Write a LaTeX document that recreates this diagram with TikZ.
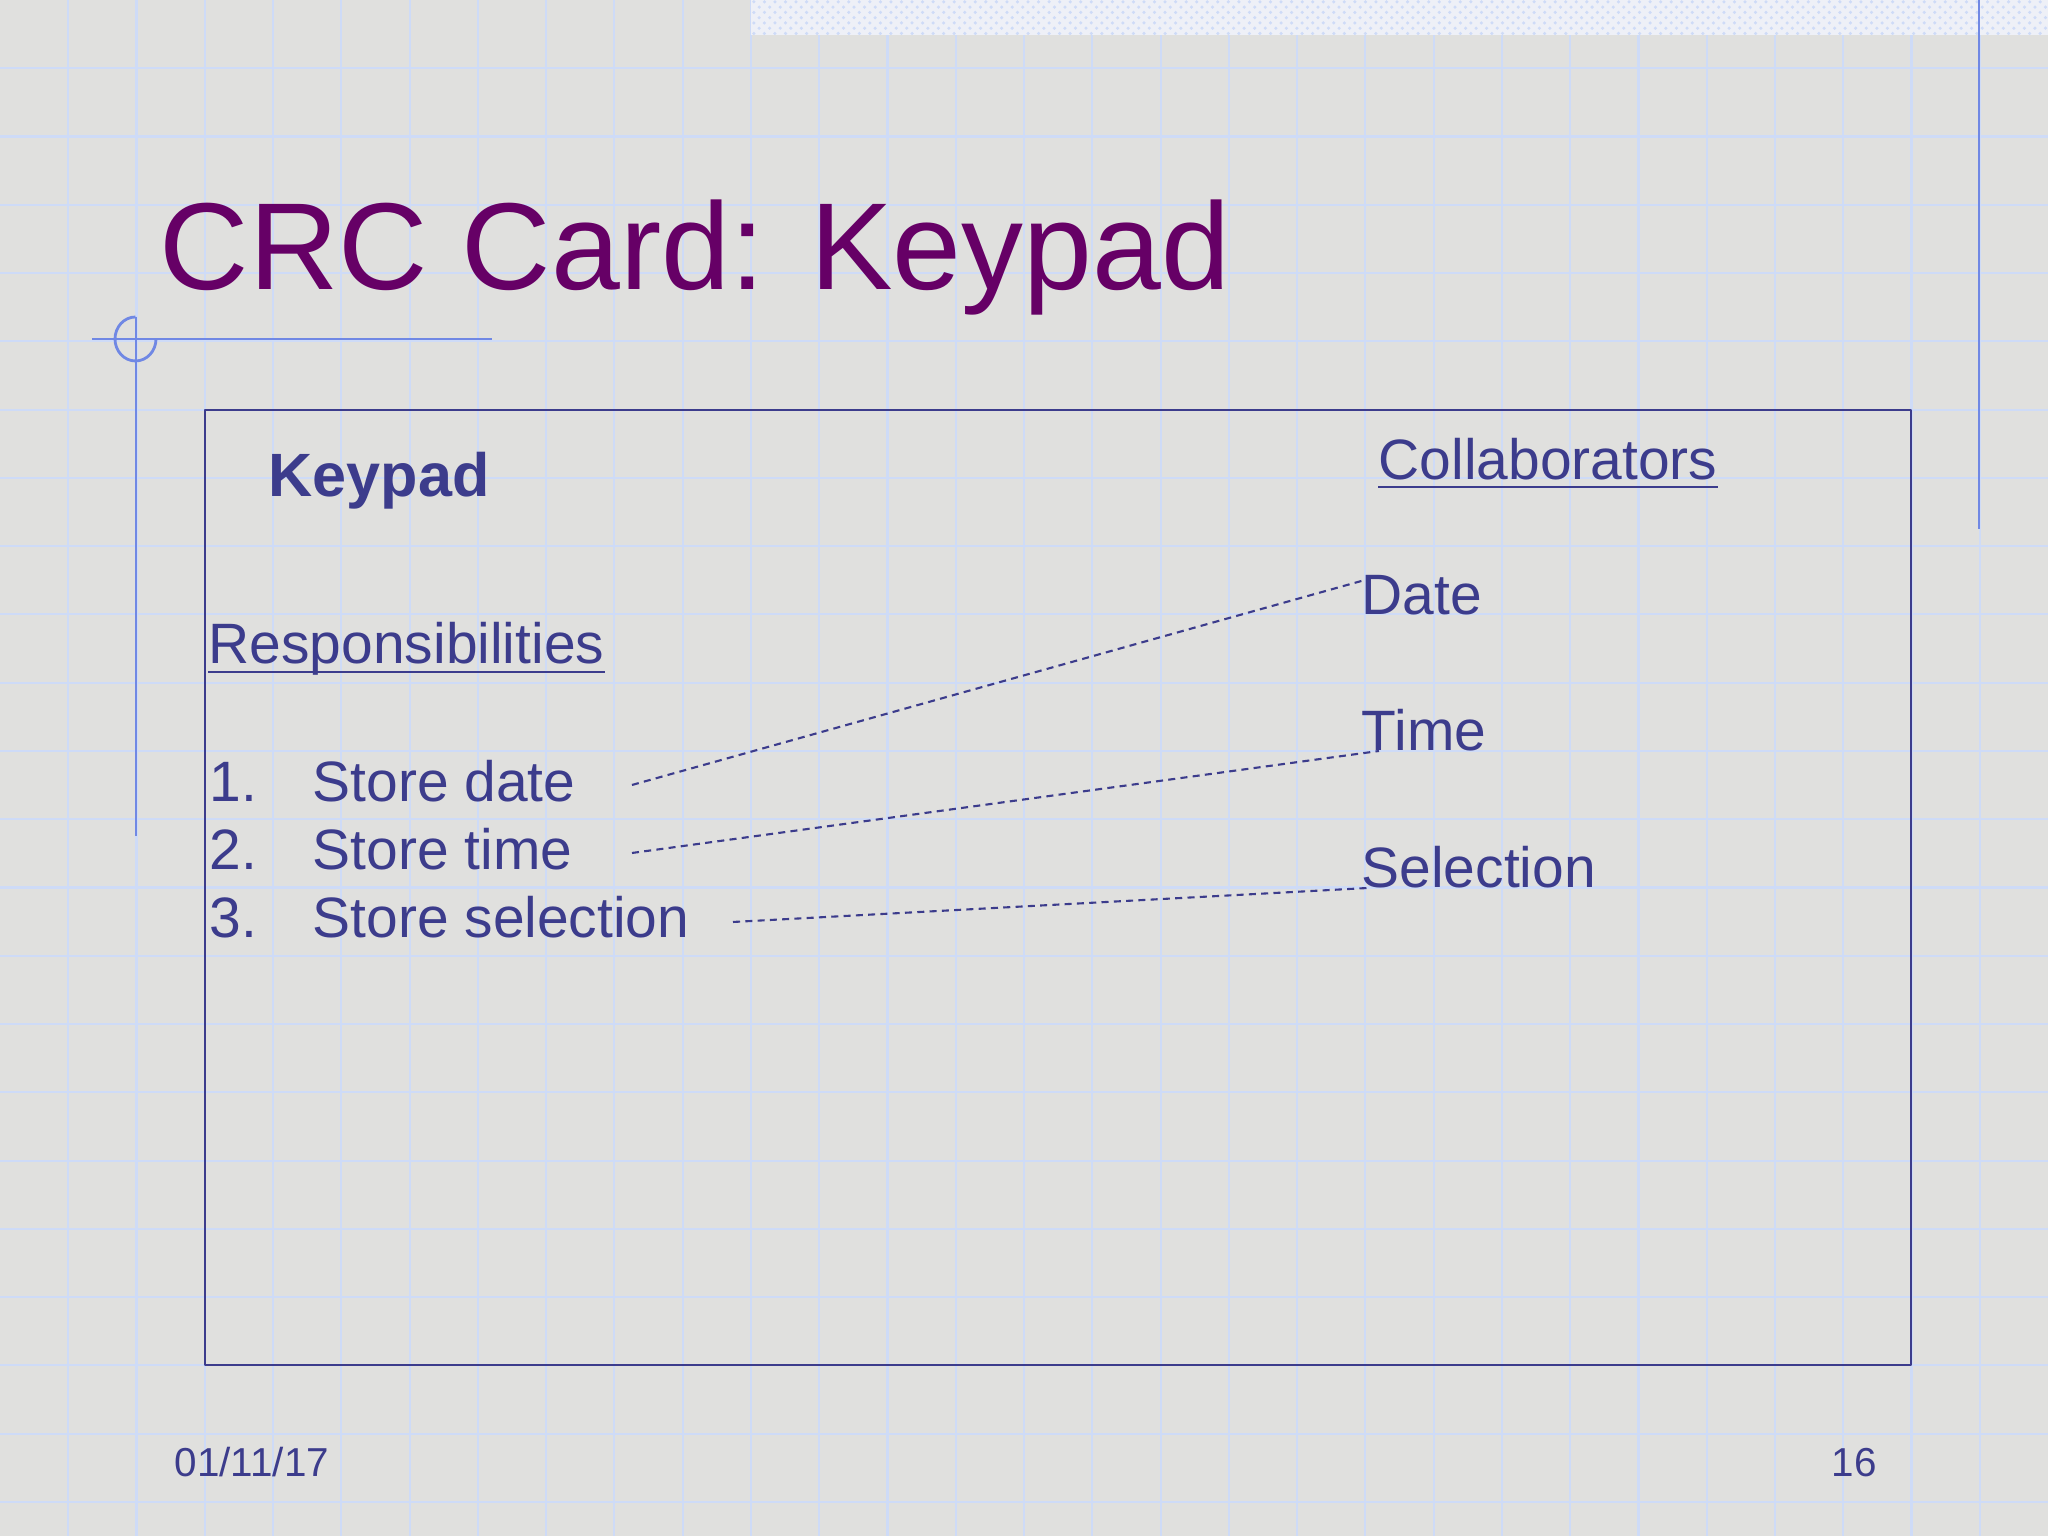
\documentclass[tikz,border=0pt]{standalone}
\usepackage{fontspec}
\setmainfont{Liberation Sans}
\usetikzlibrary{patterns}
\definecolor{bgcol}{RGB}{224,224,222}
\definecolor{gridcol}{RGB}{206,219,247}
\definecolor{decocol}{RGB}{112,136,228}
\definecolor{titlecol}{RGB}{102,0,102}
\definecolor{inkcol}{RGB}{60,60,140}
\definecolor{stripcol}{RGB}{238,240,247}
\begin{document}
\begin{tikzpicture}[line join=round,
 txt/.style={inner sep=0pt, anchor=base west, text=inkcol, font=\fontsize{16.2}{19}\selectfont},
 link/.style={inkcol, line width=0.6pt, dash pattern=on 2pt off 1.5pt},
 uline/.style={inkcol, line width=0.8pt},
 deco/.style={decocol, line width=0.8pt}]
 \useasboundingbox (0,0) rectangle (20.48,15.36);
 \fill[bgcol] (0,0) rectangle (20.48,15.36);
 \foreach \k in {1,...,29}
 \draw[gridcol, line width=0.6pt] (0.6827*\k,0) -- (0.6827*\k,15.36);
 \foreach \k in {1,...,22}
 \draw[gridcol, line width=0.6pt] (0,15.36-0.6827*\k) -- (20.48,15.36-0.6827*\k);
 \fill[stripcol] (7.51,15.01) rectangle (20.48,15.36);
 \fill[pattern=crosshatch dots, pattern color=gridcol] (7.51,15.01) rectangle (20.48,15.36);
 \draw[deco] (19.79,15.36) -- (19.79,10.07);
 \draw[deco] (0.92,11.97) -- (4.92,11.97);
 \draw[deco] (1.36,12.19) -- (1.36,7.00);
 \draw[deco] (1.355,12.19) arc[start angle=90, end angle=360, x radius=0.205, y radius=0.22];
 \node[inner sep=0pt, anchor=base west, text=titlecol, font=\fontsize{35.2}{42}\selectfont] (title) at (1.59,12.46) {CRC Card: Keypad};
 \draw[inkcol, line width=0.75pt] (2.05,1.71) rectangle (19.11,11.26);
 \node[txt, font=\fontsize{17.4}{20}\selectfont\bfseries] (cls) at (2.68,10.39) {Keypad};
 \node[txt] (resp) at (2.08,8.72) {Responsibilities};
 \draw[uline] ([yshift=-0.08cm]resp.base west) -- ([yshift=-0.08cm]resp.base east);
 \node[txt] (n1) at (2.09,7.34) {1.};
 \node[txt] (n2) at (2.09,6.66) {2.};
 \node[txt] (n3) at (2.09,5.98) {3.};
 \node[txt] (r1) at (3.12,7.34) {Store date};
 \node[txt] (r2) at (3.12,6.66) {Store time};
 \node[txt] (r3) at (3.12,5.98) {Store selection};
 \node[txt] (collab) at (13.78,10.56) {Collaborators};
 \draw[uline] ([yshift=-0.07cm]collab.base west) -- ([yshift=-0.07cm]collab.base east);
 \node[txt] (c1) at (13.61,9.21) {Date};
 \node[txt] (c2) at (13.61,7.85) {Time};
 \node[txt] (c3) at (13.61,6.48) {Selection};
 \coordinate (r1e) at (6.32,7.51);
 \coordinate (r2e) at (6.32,6.83);
 \coordinate (r3e) at (7.33,6.14);
 \coordinate (c1e) at (13.65,9.56);
 \coordinate (c2e) at (13.79,7.85);
 \coordinate (c3e) at (13.68,6.48);
 \draw[link] (r1e) -- (c1e);
 \draw[link] (r2e) -- (c2e);
 \draw[link] (r3e) -- (c3e);
 \node[txt, font=\fontsize{11.5}{13}\selectfont] (day) at (1.74,0.59) {01/11/17};
 \node[txt, font=\fontsize{11.5}{13}\selectfont] (page) at (18.31,0.59) {16};
\end{tikzpicture}
\end{document}
